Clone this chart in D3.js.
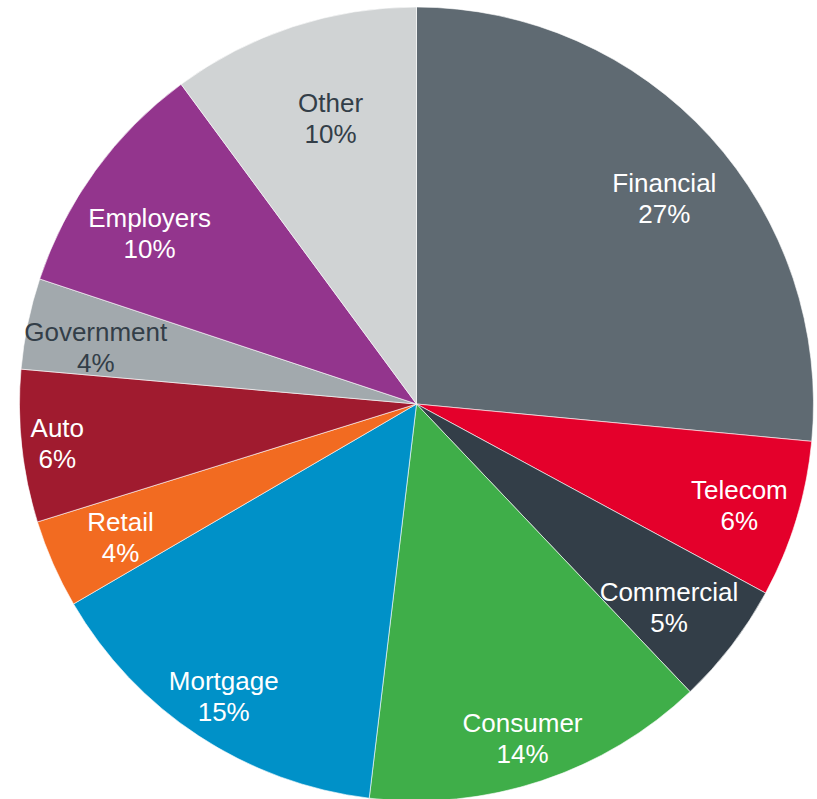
<html>
<head>
<script src="https://d3js.org/d3.v7.min.js"></script>
</head>
<style>
body { margin: 0; background: #fff; }
svg { display: block; }
</style>
<body>
<svg id="pie" width="817" height="799"></svg>
<script>
// slices, clockwise from 12 o'clock
var categories = ["Financial", "Telecom", "Commercial", "Consumer", "Mortgage", "Retail", "Auto", "Government", "Employers", "Other"];
var shares = [26.5, 6.4, 5.0, 14.0, 14.7, 3.6, 6.2, 3.7, 9.8, 10.1];
var pctLabels = ["27%", "6%", "5%", "14%", "15%", "4%", "6%", "4%", "10%", "10%"];

var colors = ["#5f6a72", "#e4002b", "#333e48", "#3fae49", "#0091c8", "#f26b21", "#a01b2f", "#a2a9ad", "#93358d", "#d0d3d4"];
var textColors = ["#fff", "#fff", "#fff", "#fff", "#fff", "#fff", "#fff", "#333e48", "#fff", "#333e48"];
// how far out each label sits (fraction of radius) + small nudges
var labelPos = [0.81, 0.85, 0.82, 0.88, 0.88, 0.82, 0.91, 0.82, 0.80, 0.75];
var nudge = [[10, 10], [0, 2], [-6, 4], [-4, 2], [-1, -1], [2, 1], [0, 0], [-2, 8], [-10, 15], [7, -4]];

var cx = 416.5, cy = 404, radius = 397;

var data = categories.map(function(c, i){
	return {name: c, value: shares[i], label: pctLabels[i], i: i};
});

var svg = d3.select("#pie");
var g = svg.append("g").attr("transform", "translate(" + cx + "," + cy + ")");

var pie = d3.pie().sort(null).value(function(d){ return d.value; });
var arc = d3.arc().innerRadius(0).outerRadius(radius);
var arcs = pie(data);

g.selectAll("path.slice").data(arcs).enter().append("path")
	.attr("class", "slice")
	.attr("d", arc)
	.attr("fill", function(d){ return colors[d.data.i]; })
	.attr("stroke", "#fff")
	.attr("stroke-width", 0.6);

var labels = g.selectAll("text.lbl").data(arcs).enter().append("text")
	.attr("class", "lbl")
	.attr("transform", function(d){
		var r = radius * labelPos[d.data.i];
		var a = (d.startAngle + d.endAngle) / 2;
		var n = nudge[d.data.i];
		return "translate(" + (Math.sin(a) * r + n[0]) + "," + (-Math.cos(a) * r + n[1]) + ")";
	})
	.attr("text-anchor", "middle")
	.style("font-family", "'Liberation Sans', Arial, sans-serif")
	.style("font-size", "26px")
	.attr("fill", function(d){ return textColors[d.data.i]; });

labels.append("tspan").attr("x", 0).attr("dy", "-0.2em").text(function(d){ return d.data.name; });
labels.append("tspan").attr("x", 0).attr("dy", "1.19em").text(function(d){ return d.data.label; });
</script>
</body>
</html>
